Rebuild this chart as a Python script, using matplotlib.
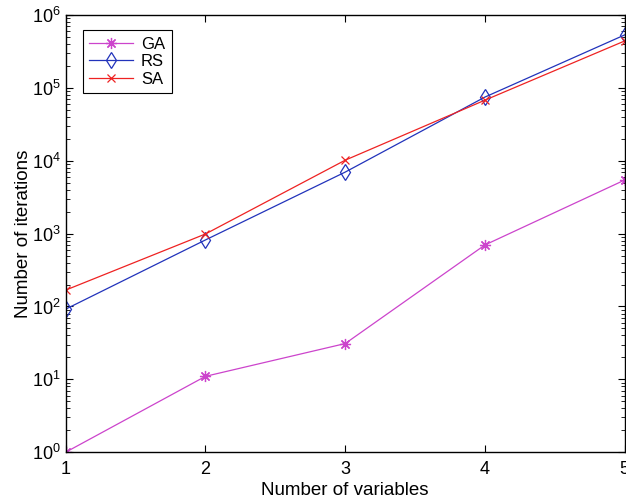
import matplotlib
matplotlib.use('Agg')
import matplotlib.pyplot as plt
import numpy as np

plt.rcParams['font.family'] = ['Liberation Sans', 'DejaVu Sans']
plt.rcParams['mathtext.fontset'] = 'custom'
plt.rcParams['mathtext.rm'] = 'Liberation Sans'
plt.rcParams['mathtext.it'] = 'Liberation Sans:italic'
plt.rcParams['mathtext.default'] = 'regular'

variables = [1, 2, 3, 4, 5]
ga = [1, 11, 31, 700, 5450]
rs = [92, 820, 7000, 75000, 535000]
sa = [168, 990, 10200, 68000, 442000]

fig = plt.figure(figsize=(6.26, 5.03), dpi=100)
ax = fig.add_axes([0.105, 0.101, 0.893, 0.869])

ax.plot(variables, ga, color='#cc44cc', marker=(8, 2, 0), markersize=8, markeredgewidth=0.9,
        linewidth=0.9, label='GA')
ax.plot(variables, rs, color='#2233bb', marker='d', markersize=8, markerfacecolor='none',
        markeredgewidth=0.9, linewidth=0.9, label='RS')
ax.plot(variables, sa, color='#ee2222', marker='x', markersize=6, markeredgewidth=0.9,
        linewidth=0.9, label='SA')

ax.set_yscale('log')
ax.set_xlim(1, 5)
ax.set_ylim(1, 1e6)
ax.set_xticks(variables)
ax.tick_params(which='both', direction='in', top=True, right=True, labelsize=13)
ax.tick_params(which='major', length=5)
ax.tick_params(which='minor', length=3)
ax.tick_params(axis='x', pad=6)
for s in ax.spines.values():
    s.set_linewidth(1.0)

ax.set_xlabel('Number of variables', fontsize=13.5, labelpad=3)
ax.set_ylabel('Number of iterations', fontsize=13.5, labelpad=0)

leg = ax.legend(loc='upper left', bbox_to_anchor=(0.03, 0.966), borderaxespad=0,
                fancybox=False, framealpha=1, edgecolor='black', fontsize=12,
                handlelength=2.6, handletextpad=0.5, borderpad=0.4, labelspacing=0.15)
leg.get_frame().set_linewidth(0.8)

fig.savefig('out.png', dpi=100)
